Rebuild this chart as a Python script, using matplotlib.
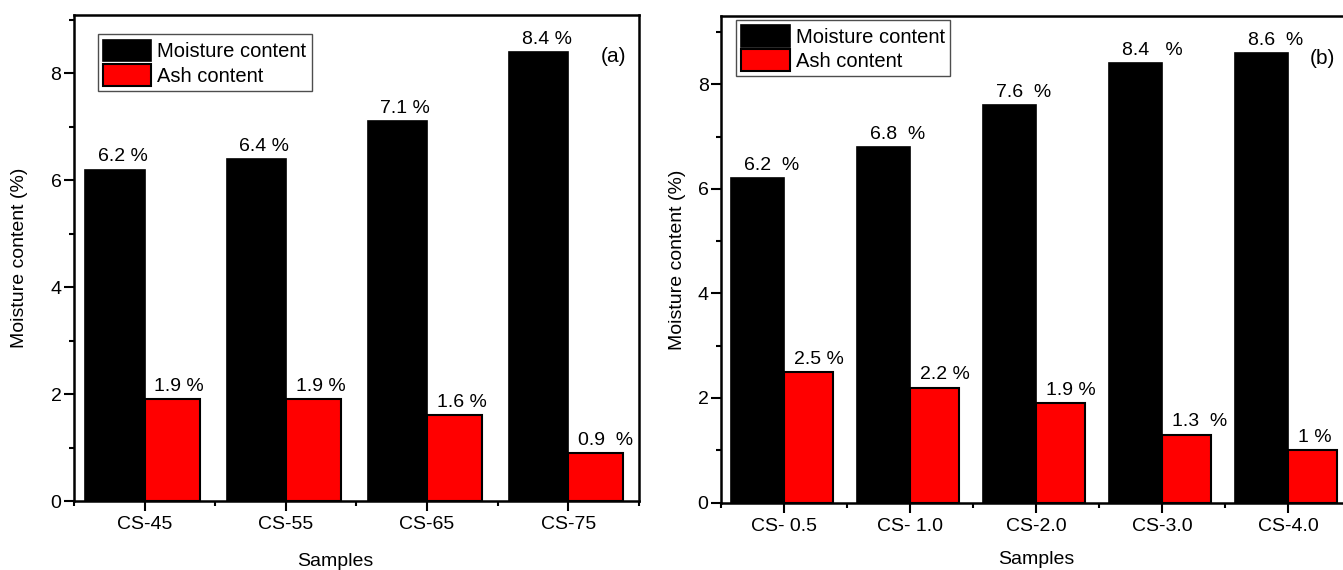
import matplotlib
matplotlib.use("Agg")
import matplotlib.pyplot as plt
from matplotlib.ticker import MultipleLocator, FixedLocator
import numpy as np

plt.rcParams["font.family"] = ["Liberation Sans", "DejaVu Sans"]

# panel (a): carbonisation temperature series
samples_a = ["CS-45", "CS-55", "CS-65", "CS-75"]
moisture_a = [6.2, 6.4, 7.1, 8.4]
ash_a = [1.9, 1.9, 1.6, 0.9]
moisture_lbl_a = ["6.2 %", "6.4 %", "7.1 %", "8.4 %"]
ash_lbl_a = ["1.9 %", "1.9 %", "1.6 %", "0.9  %"]

# panel (b): activating agent ratio series
samples_b = ["CS- 0.5", "CS- 1.0", "CS-2.0", "CS-3.0", "CS-4.0"]
moisture_b = [6.2, 6.8, 7.6, 8.4, 8.6]
ash_b = [2.5, 2.2, 1.9, 1.3, 1.0]
moisture_lbl_b = ["6.2  %", "6.8  %", "7.6  %", "8.4   %", "8.6  %"]
ash_lbl_b = ["2.5 %", "2.2 %", "1.9 %", "1.3  %", "1 %"]

FS = 14
W_BLACK = 0.42
W_RED = 0.39


def bar_left(rect):
    return min(rect.get_x(), rect.get_x() + rect.get_width())


def draw_panel(ax, samples, moisture, ash, m_lbl, a_lbl, ymax, tag, leg_xy, ylab_x, xlab_xy):
    x = np.arange(1, len(samples) + 1)
    b1 = ax.bar(x, moisture, width=-W_BLACK, align="edge", color="black",
                edgecolor="black", linewidth=1.2, label="Moisture content")
    b2 = ax.bar(x, ash, width=W_RED, align="edge", color="#ff0000",
                edgecolor="black", linewidth=1.5, label="Ash content")

    for rect, txt in zip(b1, m_lbl):
        ax.annotate(txt, xy=(bar_left(rect), rect.get_height()), xytext=(9, 6),
                    textcoords="offset points", ha="left", va="baseline", fontsize=FS)
    for rect, txt in zip(b2, a_lbl):
        ax.annotate(txt, xy=(bar_left(rect), rect.get_height()), xytext=(7, 6),
                    textcoords="offset points", ha="left", va="baseline", fontsize=FS)

    ax.set_xlim(0.5, len(samples) + 0.5)
    ax.set_ylim(0, ymax)
    ax.set_xticks(x)
    ax.set_xticklabels(samples)
    ax.xaxis.set_minor_locator(FixedLocator(np.arange(0.5, len(samples) + 1, 1.0)))
    ax.yaxis.set_major_locator(MultipleLocator(2))
    ax.yaxis.set_minor_locator(MultipleLocator(1))
    ax.tick_params(axis="both", which="major", direction="out", length=7, width=1.5,
                   labelsize=FS)
    ax.tick_params(axis="both", which="minor", direction="out", length=3.5, width=1.5)
    ax.tick_params(axis="x", which="major", pad=4)
    ax.tick_params(axis="y", which="major", pad=2)
    for sp in ax.spines.values():
        sp.set_linewidth(1.8)

    ax.set_ylabel("Moisture content (%)", fontsize=FS)
    ax.set_xlabel("Samples", fontsize=FS)
    ax.yaxis.set_label_coords(ylab_x, 0.5)
    ax.xaxis.set_label_coords(*xlab_xy)

    leg = ax.legend(loc="upper left", bbox_to_anchor=leg_xy, borderaxespad=0,
                    fontsize=FS + 0.5, frameon=True, fancybox=False,
                    handlelength=2.4, handleheight=1.3, labelspacing=0.12,
                    borderpad=0.25, handletextpad=0.3)
    leg.get_frame().set_edgecolor("#222222")
    leg.get_frame().set_linewidth(1.0)

    ax.text(0.955, 0.913, tag, transform=ax.transAxes, ha="center", va="center",
            fontsize=FS + 1)


fig = plt.figure(figsize=(13.43, 5.70), dpi=100)
ax_a = fig.add_axes([0.0551, 0.121, 0.4207, 0.8535])
ax_b = fig.add_axes([0.5369, 0.1184, 0.4691, 0.8528])

draw_panel(ax_a, samples_a, moisture_a, ash_a, moisture_lbl_a, ash_lbl_a,
           9.1, "(a)", (0.0425, 0.959), -0.082, (0.462, -0.107))
draw_panel(ax_b, samples_b, moisture_b, ash_b, moisture_lbl_b, ash_lbl_b,
           9.3, "(b)", (0.024, 0.993), -0.056, (0.5, -0.10))

fig.savefig("out.png", dpi=100)
plt.close(fig)
